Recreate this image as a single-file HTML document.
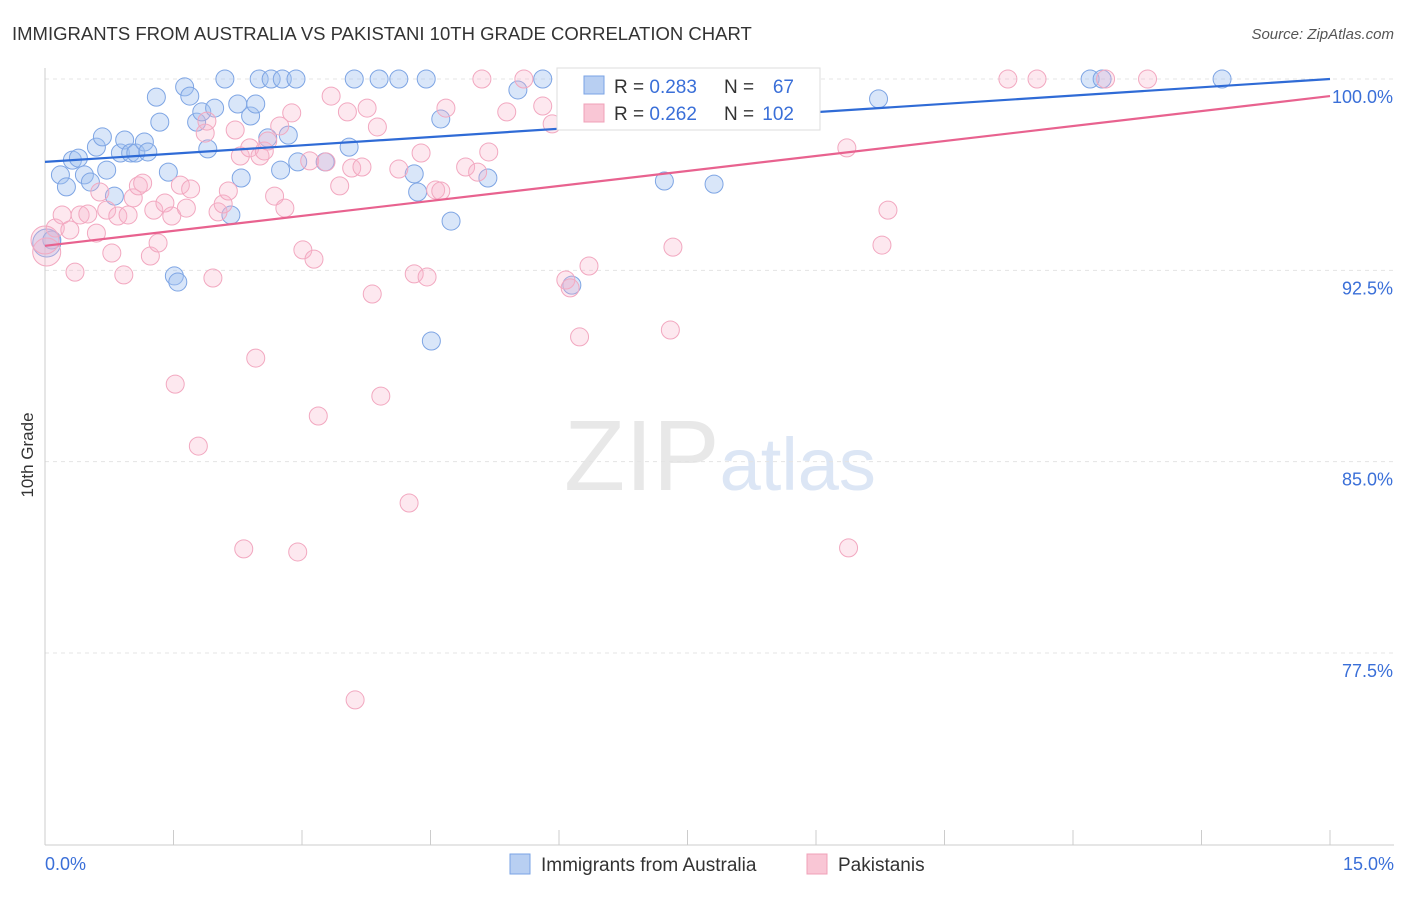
<!DOCTYPE html>
<html><head><meta charset="utf-8"><style>
body{margin:0;background:#fff;font-family:"Liberation Sans",sans-serif;}
svg text{font-family:"Liberation Sans",sans-serif;}
</style></head><body>
<svg id="chart" width="1406" height="892" viewBox="0 0 1406 892" xmlns="http://www.w3.org/2000/svg">
<text x="12" y="40" font-size="18.5" fill="#333">IMMIGRANTS FROM AUSTRALIA VS PAKISTANI 10TH GRADE CORRELATION CHART</text>
<text x="1394" y="39" font-size="15" fill="#555" text-anchor="end" font-style="italic">Source: ZipAtlas.com</text>
<text x="720" y="490" font-size="100" text-anchor="middle" fill="#e8e8e8" font-family="Liberation Serif">ZIP<tspan fill="#dce6f5" font-family="Liberation Sans" font-size="74">atlas</tspan></text>
<g id="grid"></g>
<g id="axes"></g>
<g id="pts"></g>
<g id="lines"></g>
<text transform="translate(33,455) rotate(-90)" font-size="17" fill="#333" text-anchor="middle">10th Grade</text>
<g>
<rect x="557" y="68" width="263" height="62" fill="#fff" stroke="#ddd"/>
<rect x="584" y="76" width="20" height="18" fill="#b8cff2" stroke="#7aa3e5"/>
<text x="614" y="93" font-size="19" fill="#333">R = <tspan fill="#3a6fd8">0.283</tspan></text>
<text x="724" y="93" font-size="19" fill="#333">N =</text>
<text x="794" y="93" font-size="19" fill="#3a6fd8" text-anchor="end">67</text>
<rect x="584" y="104" width="20" height="18" fill="#f9c6d5" stroke="#f0a0b8"/>
<text x="614" y="120" font-size="19" fill="#333">R = <tspan fill="#3a6fd8">0.262</tspan></text>
<text x="724" y="120" font-size="19" fill="#333">N =</text>
<text x="794" y="120" font-size="19" fill="#3a6fd8" text-anchor="end">102</text>
</g>
<g>
<rect x="510" y="854" width="20" height="20" fill="#b8cff2" stroke="#7aa3e5"/>
<text x="541" y="871" font-size="19" fill="#333">Immigrants from Australia</text>
<rect x="807" y="854" width="20" height="20" fill="#f9c6d5" stroke="#f0a0b8"/>
<text x="838" y="871" font-size="19" fill="#333">Pakistanis</text>
</g>
</svg>
<script>
const yTicks=[100,92.5,85,77.5];
const yTickLabels=["100.0%","92.5%","85.0%","77.5%"];
const xEndLabels=["0.0%","15.0%"];
const blueX=[0.02,0.08,0.18,0.25,0.32,0.39,0.46,0.53,0.60,0.67,0.72,0.81,0.88,0.93,1.00,1.06,1.16,1.20,1.30,1.34,1.44,1.51,1.55,1.63,1.69,1.77,1.83,1.90,1.98,2.10,2.17,2.25,2.29,2.40,2.46,2.50,2.60,2.64,2.75,2.77,2.84,2.93,2.95,3.27,3.55,3.61,3.90,4.13,4.31,4.35,4.45,4.51,4.62,4.74,5.17,5.52,5.81,6.15,7.23,7.81,12.20,12.34,13.74,9.73,6.15,6.44,6.48];
const blueY=[93.57,93.69,96.24,95.77,96.82,96.90,96.24,95.96,97.33,97.73,96.43,95.41,97.10,97.61,97.10,97.10,97.53,97.14,99.29,98.31,96.35,92.28,92.04,99.69,99.33,98.31,98.71,97.26,98.86,100,94.67,99.02,96.12,98.55,99.02,100,97.69,100,96.43,100,97.80,100,96.75,96.75,97.33,100,100,100,96.28,95.57,100,89.73,98.43,94.43,96.12,99.57,100,91.92,96.00,95.88,100,100,100,99.22,100,100,99.76];
const pinkX=[0.02,0.12,0.20,0.29,0.35,0.41,0.50,0.60,0.64,0.72,0.78,0.85,0.92,0.97,1.03,1.09,1.14,1.23,1.27,1.32,1.40,1.48,1.52,1.58,1.65,1.70,1.79,1.87,1.89,1.96,2.02,2.08,2.14,2.22,2.28,2.32,2.39,2.46,2.51,2.56,2.60,2.68,2.74,2.80,2.88,2.95,3.01,3.09,3.14,3.19,3.28,3.34,3.44,3.53,3.58,3.62,3.70,3.76,3.82,3.88,3.92,4.13,4.25,4.31,4.39,4.46,4.56,4.62,4.68,4.91,5.05,5.10,5.18,5.39,5.59,5.81,5.92,6.08,6.13,6.24,6.35,7.30,7.33,9.36,9.38,9.77,9.84,11.24,11.58,12.38,12.87,8.29,8.58,8.81,6.71,0.0];
const pinkY=[93.22,94.16,94.67,94.08,92.43,94.67,94.71,93.96,95.57,94.86,93.18,94.63,92.32,94.67,95.34,95.81,95.92,93.06,94.86,93.57,95.14,94.63,88.04,95.84,94.94,95.69,85.61,97.88,98.35,92.20,94.79,95.10,95.61,98.00,96.98,81.58,97.30,89.06,96.98,97.18,97.57,95.41,98.16,94.94,98.67,81.46,93.30,96.79,92.94,86.79,96.75,99.33,95.81,98.71,96.51,75.66,96.55,98.86,91.57,98.12,87.57,96.47,83.38,92.36,97.10,92.24,95.65,95.61,98.86,96.55,96.35,100,97.14,98.71,100,98.94,98.24,92.12,91.81,89.89,92.67,90.16,93.41,97.30,81.62,93.49,94.86,100,100,100,100,100,100,100,100,93.69];
const blueTrend=[96.75,100];
const pinkTrend=[93.46,99.33];
const NS="http://www.w3.org/2000/svg";
const X0=45,X1=1330,Y100=79,PX_PER=25.51;
function sx(v){return X0+(X1-X0)*v/15;}
function sy(v){return Y100+(100-v)*PX_PER;}
function mk(tag,attrs,parent){const e=document.createElementNS(NS,tag);for(const k in attrs)e.setAttribute(k,attrs[k]);parent.appendChild(e);return e;}
const grid=document.getElementById('grid'),axes=document.getElementById('axes');
yTicks.forEach((t,i)=>{
 const l=mk('line',{x1:45,x2:1394,y1:sy(t),y2:sy(t),stroke:'#e4e4e4','stroke-dasharray':'4,4'},grid);
 
 
 const tx=mk('text',{x:1393,y:sy(t)+24,'font-size':18,fill:'#3a6fd8','text-anchor':'end'},axes);
 tx.textContent=yTickLabels[i];
 
 
});
const xa=mk('line',{x1:45,x2:1394,y1:845,y2:845,stroke:'#ccc'},axes);


const ya=mk('line',{x1:45,x2:45,y1:68,y2:845,stroke:'#ccc'},axes);


for(let i=0;i<=10;i++){
 const t=mk('line',{x1:sx(i*1.5),x2:sx(i*1.5),y1:830,y2:845,stroke:'#ccc'},axes);
 
 
}
const xl0=mk('text',{x:45,y:870,'font-size':18,fill:'#3a6fd8'},axes);xl0.textContent=xEndLabels[0];


const xl1=mk('text',{x:1394,y:870,'font-size':18,fill:'#3a6fd8','text-anchor':'end'},axes);xl1.textContent=xEndLabels[1];


const pts=document.getElementById('pts');
function drawSeries(xs,ys,fill,stroke,name){
 xs.forEach((x,i)=>{
  const r=(i===0||x<0.05)?14:9;
  const c=mk('circle',{cx:sx(x),cy:sy(ys[i]),r:r,fill:fill,stroke:stroke,'stroke-width':1},pts);
  
  
 });
}
drawSeries(blueX,blueY,'rgba(160,192,240,0.4)','#7ea5e4','point-australia');
drawSeries(pinkX,pinkY,'rgba(248,180,202,0.3)','#f2a8c0','point-pakistanis');
const lines=document.getElementById('lines');
const bl=mk('line',{x1:sx(0),y1:sy(blueTrend[0]),x2:sx(15),y2:sy(blueTrend[1]),stroke:'#2f6bd6','stroke-width':2.2},lines);


const pl=mk('line',{x1:sx(0),y1:sy(pinkTrend[0]),x2:sx(15),y2:sy(pinkTrend[1]),stroke:'#e8628f','stroke-width':2.2},lines);


</script>
</body></html>
